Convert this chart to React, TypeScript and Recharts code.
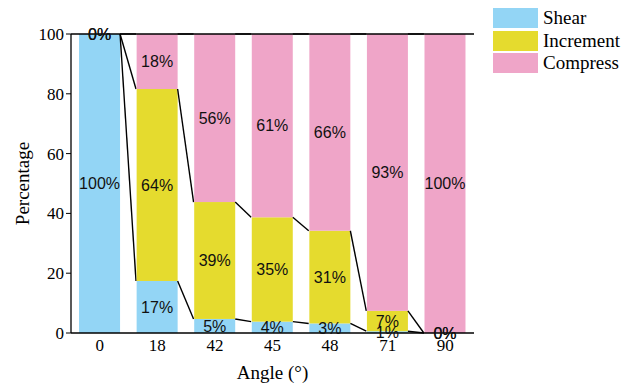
import React from "react";
import {
  BarChart,
  Bar,
  XAxis,
  YAxis,
  LabelList,
  ReferenceLine,
} from "recharts";

// angle categories and the share of each mechanism (%)
const angles = ["0", "18", "42", "45", "48", "71", "90"];
const shear = [100, 17.4, 4.7, 3.8, 3.2, 0.6, 0];
const increment = [0, 64.2, 39.1, 34.9, 31.0, 6.8, 0];
const compress = [0, 18.4, 56.2, 61.3, 65.8, 92.6, 100];

const seriesKeys = ["shear", "increment", "compress"];
const seriesNames = ["Shear", "Increment", "Compress"];
const seriesColors = ["#93d5f5", "#e5db2e", "#efa5c8"];

const majorTicks = [0, 20, 40, 60, 80, 100];
const minorTicks = [10, 30, 50, 70, 90];
const allTicks = [0, 10, 20, 30, 40, 50, 60, 70, 80, 90, 100];

const rows = angles.map((angle, i) => ({
  angle,
  shear: shear[i],
  increment: increment[i],
  compress: compress[i],
}));

const GAP = 0.14;
const serif = "'Liberation Serif', 'Times New Roman', serif";
const sans = "'Liberation Sans', Arial, sans-serif";

// cumulative top of a stack layer for one row
const stackTop = (row: any, layer: number) =>
  seriesKeys.slice(0, layer + 1).reduce((s, k) => s + row[k], 0);

// bar with a connector from its top-right corner to the next bar's top-left
const makeShape = (layer: number) => (props: any) => {
  const { x, y, width, height, fill, index, background } = props;
  const next = rows[index + 1];
  let link = null;
  if (next && background) {
    const band = width / (1 - 2 * GAP);
    const py = (v: number) => background.y + background.height * (1 - v / 100);
    link = (
      <line
        x1={x + width}
        y1={py(stackTop(rows[index], layer))}
        x2={x + band}
        y2={py(stackTop(next, layer))}
        stroke="#000"
        strokeWidth={1.4}
      />
    );
  }
  return (
    <g>
      <rect x={x} y={y} width={width} height={Math.max(height, 0)} fill={fill} />
      {link}
    </g>
  );
};

const YTitle = (props: any) => {
  const { viewBox } = props;
  const cx = viewBox.x + 11;
  const cy = viewBox.y + viewBox.height / 2;
  return (
    <text
      x={cx}
      y={cy}
      transform={`rotate(-90 ${cx} ${cy})`}
      textAnchor="middle"
      dominantBaseline="central"
      fontFamily={serif}
      fontSize={19}
      fill="#000"
    >
      Percentage
    </text>
  );
};

export default function App() {
  return (
    <div style={{ position: "absolute", left: 0, top: 0, width: 624, height: 390, background: "#fff" }}>
      <BarChart
        width={624}
        height={390}
        data={rows}
        barCategoryGap={`${GAP * 100}%`}
        margin={{ top: 34, right: 150, bottom: 7, left: 11 }}
      >
        <XAxis
          dataKey="angle"
          height={50}
          tickLine={false}
          tickMargin={0}
          axisLine={{ stroke: "#000", strokeWidth: 1.3 }}
          tick={{ fill: "#000", fontFamily: serif, fontSize: 17 }}
          label={{
            value: "Angle (°)",
            position: "insideBottom",
            offset: 4,
            fill: "#000",
            fontFamily: serif,
            fontSize: 19,
          }}
        />
        <YAxis
          yAxisId="left"
          width={60}
          domain={[0, 100]}
          ticks={majorTicks}
          tickSize={5}
          tickMargin={2}
          axisLine={{ stroke: "#000", strokeWidth: 1.3 }}
          tickLine={{ stroke: "#000" }}
          tick={{ fill: "#000", fontFamily: serif, fontSize: 17 }}
          label={<YTitle />}
        />
        <YAxis
          yAxisId="minor"
          mirror
          width={0}
          domain={[0, 100]}
          ticks={minorTicks}
          tickSize={4}
          axisLine={false}
          tickLine={{ stroke: "#000" }}
          tick={() => <g />}
        />
        <YAxis
          yAxisId="right"
          orientation="right"
          mirror
          width={0}
          domain={[0, 100]}
          ticks={allTicks}
          tickSize={5}
          axisLine={{ stroke: "#000", strokeWidth: 1.3 }}
          tickLine={{ stroke: "#000" }}
          tick={() => <g />}
        />
        {seriesKeys.map((key, i) => (
          <Bar
            key={key}
            yAxisId="left"
            dataKey={key}
            name={seriesNames[i]}
            stackId="a"
            fill={seriesColors[i]}
            shape={makeShape(i)}
            isAnimationActive={false}
          >
            <LabelList
              dataKey={key}
              position="center"
              formatter={(v: any) => `${Math.round(Number(v))}%`}
              fill="#111"
              fontFamily={sans}
              fontSize={16}
            />
          </Bar>
        ))}
        <ReferenceLine yAxisId="left" y={100} stroke="#000" strokeWidth={1.3} />
      </BarChart>
      <div style={{ position: "absolute", left: 493, top: 7 }}>
        {seriesNames.map((name, i) => (
          <div key={name} style={{ display: "flex", alignItems: "center", height: 22.5 }}>
            <div style={{ width: 45, height: 20, background: seriesColors[i] }} />
            <span
              style={{
                marginLeft: 5,
                fontFamily: serif,
                fontSize: 19,
                color: "#000",
                lineHeight: "20px",
              }}
            >
              {name}
            </span>
          </div>
        ))}
      </div>
    </div>
  );
}
